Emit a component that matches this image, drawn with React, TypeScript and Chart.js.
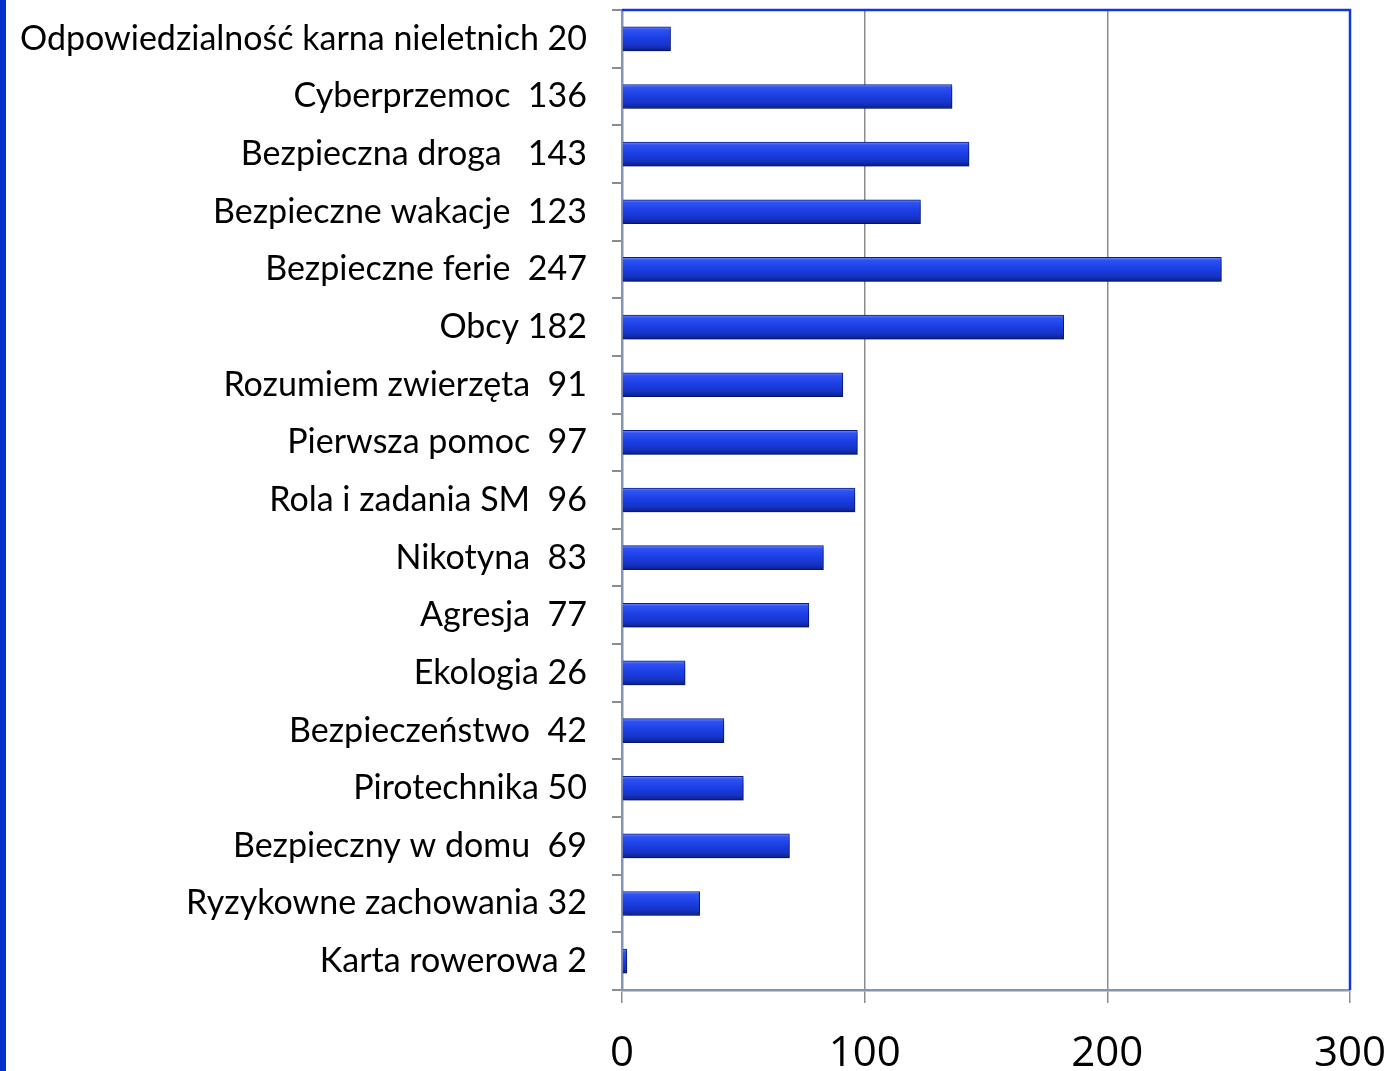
import React, { useEffect, useRef } from "react";
import { Chart, registerables } from "chart.js";

Chart.register(...registerables);

const categories = [
  "Odpowiedzialność karna nieletnich 20",
  "Cyberprzemoc  136",
  "Bezpieczna droga   143",
  "Bezpieczne wakacje  123",
  "Bezpieczne ferie  247",
  "Obcy 182",
  "Rozumiem zwierzęta  91",
  "Pierwsza pomoc  97",
  "Rola i zadania SM  96",
  "Nikotyna  83",
  "Agresja  77",
  "Ekologia 26",
  "Bezpieczeństwo  42",
  "Pirotechnika 50",
  "Bezpieczny w domu  69",
  "Ryzykowne zachowania 32",
  "Karta rowerowa 2",
];

const values = [20, 136, 143, 123, 247, 182, 91, 97, 96, 83, 77, 26, 42, 50, 69, 32, 2];

const xMin = 0;
const xMax = 300;
const xStep = 100;

const BAR_H = 24;

const shadowPlugin = {
  id: "barShadow",
  beforeDatasetsDraw(chart: any) {
    const ctx = chart.ctx;
    ctx.save();
    ctx.shadowColor = "rgba(0,0,0,0.35)";
    ctx.shadowOffsetX = 2;
    ctx.shadowOffsetY = 4;
    ctx.shadowBlur = 5;
  },
  afterDatasetsDraw(chart: any) {
    chart.ctx.restore();
  },
};

const framePlugin = {
  id: "frame",
  afterDraw(chart: any) {
    const { ctx, chartArea } = chart;
    ctx.save();
    ctx.strokeStyle = "#1038d8";
    ctx.lineWidth = 2.5;
    ctx.beginPath();
    ctx.moveTo(chartArea.left, chartArea.top);
    ctx.lineTo(chartArea.right, chartArea.top);
    ctx.lineTo(chartArea.right, chartArea.bottom);
    ctx.stroke();
    ctx.restore();
  },
};

export default function App() {
  const ref = useRef<HTMLCanvasElement | null>(null);

  useEffect(() => {
    if (!ref.current) return;
    const chart = new Chart(ref.current, {
      type: "bar",
      data: {
        labels: categories,
        datasets: [
          {
            data: values,
            barThickness: BAR_H,
            borderColor: "#0a1f8c",
            borderWidth: 1,
            backgroundColor: (c: any) => {
              const ch = c.chart;
              const ys = ch.scales && ch.scales.y;
              if (!ys || !ch.chartArea) return "#1f3fe0";
              const y = ys.getPixelForValue(c.dataIndex);
              const g = ch.ctx.createLinearGradient(0, y - BAR_H / 2, 0, y + BAR_H / 2);
              g.addColorStop(0, "#6f8cff");
              g.addColorStop(0.12, "#2f52f2");
              g.addColorStop(0.45, "#1c40e6");
              g.addColorStop(0.8, "#1532c2");
              g.addColorStop(1, "#0a1f88");
              return g;
            },
          },
        ],
      },
      options: {
        indexAxis: "y",
        animation: false,
        responsive: false,
        maintainAspectRatio: false,
        layout: { padding: { top: 10, right: 40, left: 0, bottom: 0 } },
        plugins: {
          legend: { display: false },
          tooltip: { enabled: false },
        },
        scales: {
          x: {
            type: "linear",
            min: xMin,
            max: xMax,
            ticks: {
              stepSize: xStep,
              color: "#000",
              font: { family: "Open Sans", size: 42 },
              padding: 26,
            },
            grid: {
              color: (c: any) => (c.tick && c.tick.value === xMax ? "rgba(0,0,0,0)" : "#8c8c8c"),
              lineWidth: 1.5,
              drawTicks: true,
              tickLength: 13,
              tickColor: "#8c8c8c",
            },
            border: { color: "#8494b8", width: 2.5 },
            afterFit: (s: any) => {
              s.height = 81;
              s.paddingLeft = 0;
              s.paddingRight = 0;
            },
          },
          y: {
            type: "category",
            ticks: {
              color: "#000",
              font: { family: "Lato", size: 34 },
              padding: 25,
              autoSkip: false,
            },
            grid: {
              offset: true,
              drawOnChartArea: false,
              drawTicks: true,
              tickLength: 10,
              tickColor: "#8c8c8c",
              lineWidth: 2,
            },
            border: { color: "#8494b8", width: 2.5 },
            afterFit: (s: any) => {
              s.width = 622;
              s.paddingTop = 0;
              s.paddingBottom = 0;
            },
          },
        },
      },
      plugins: [shadowPlugin, framePlugin],
    } as any);
    return () => chart.destroy();
  }, []);

  return (
    <div style={{ position: "absolute", left: 0, top: 0, width: 1390, height: 1071, background: "#fff" }}>
      <canvas ref={ref} width={1390} height={1071} style={{ position: "absolute", left: 0, top: 0 }} />
      <div style={{ position: "absolute", left: 0, top: 0, width: 6, height: 1071, background: "#0033cc" }} />
    </div>
  );
}
